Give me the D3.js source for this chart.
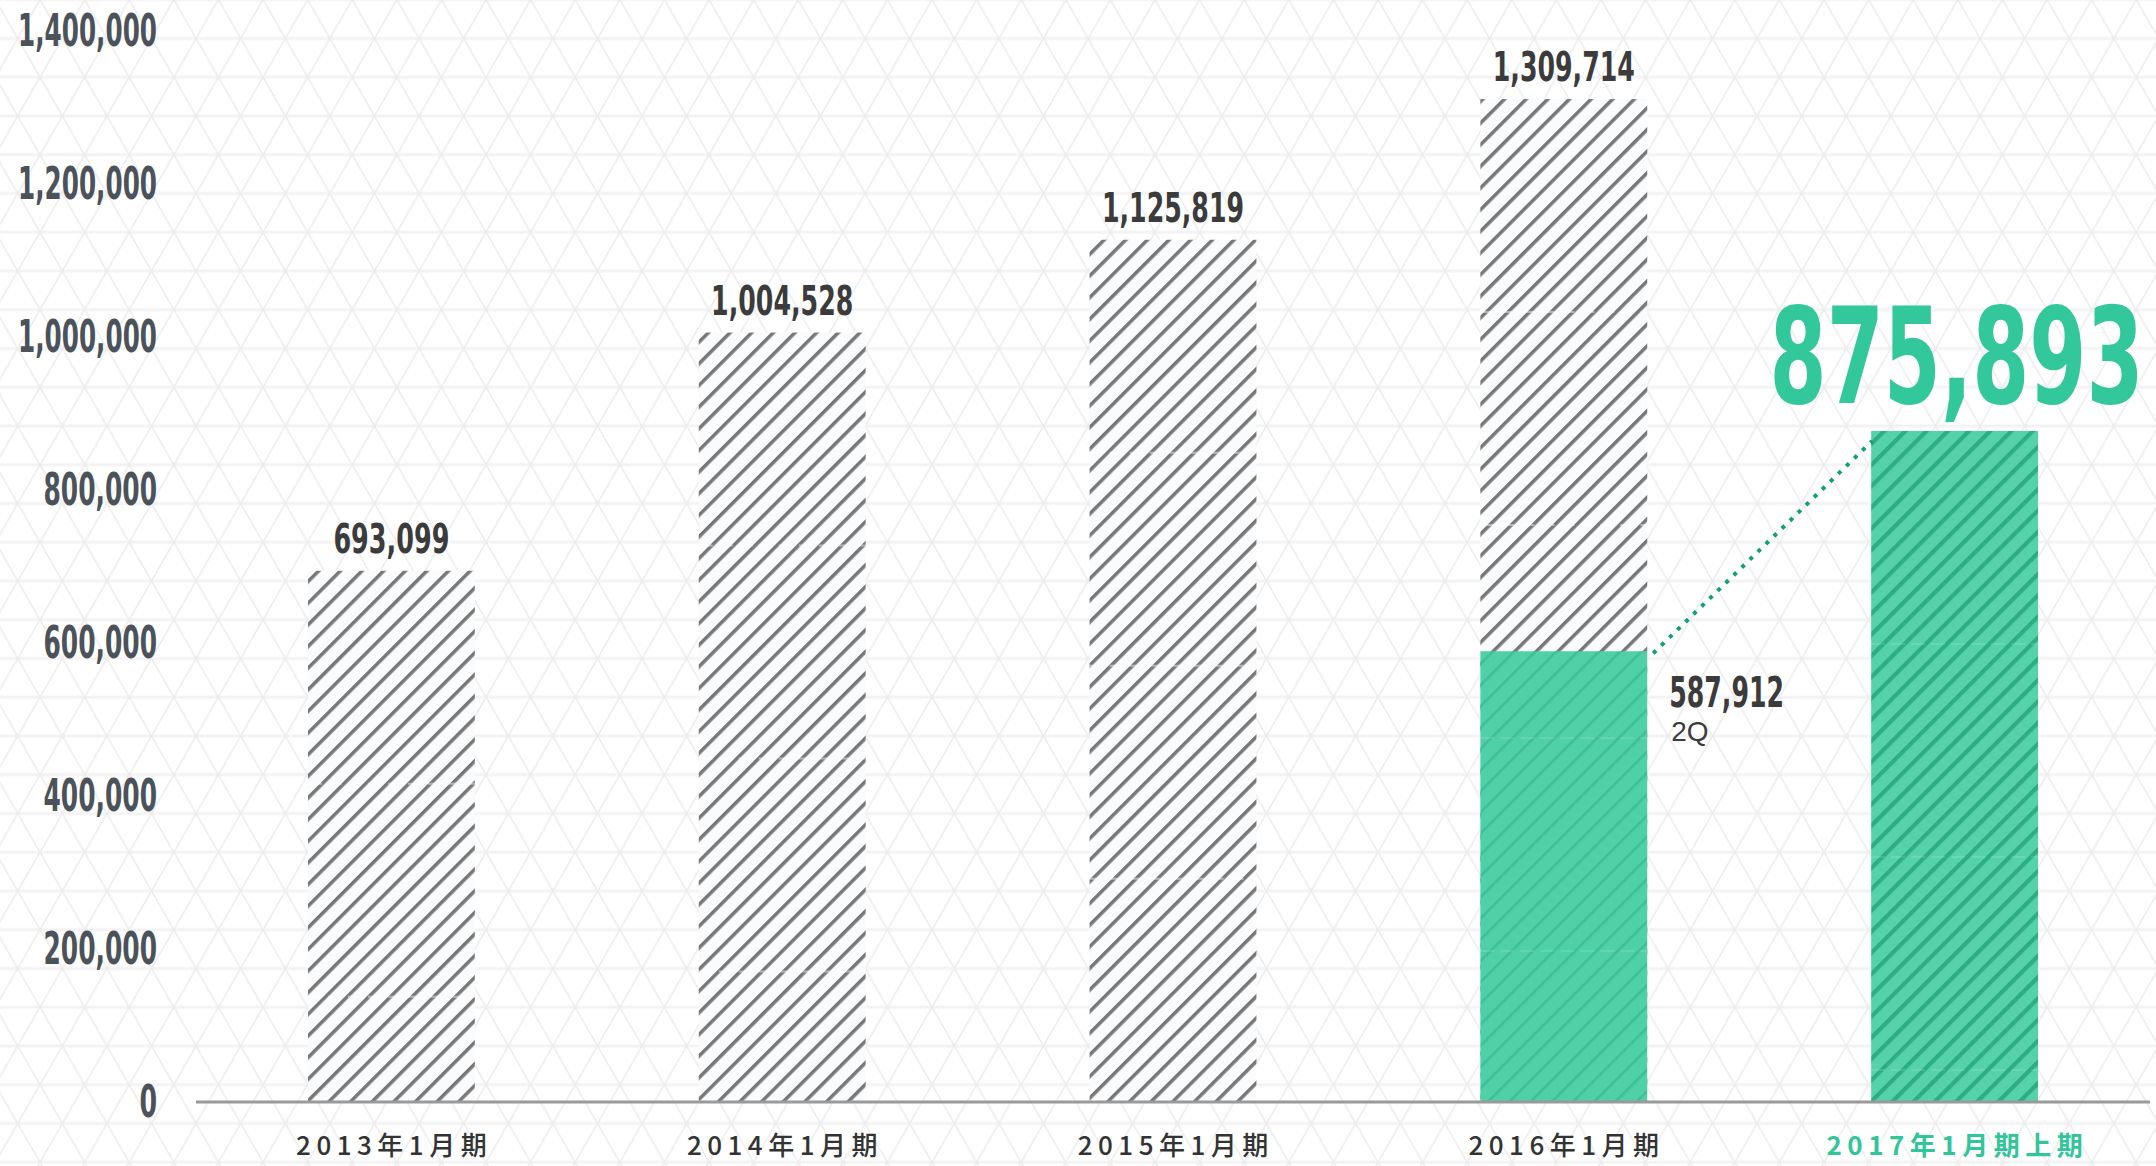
<!DOCTYPE html>
<html>
<head>
<meta charset="utf-8">
<script src="https://cdn.jsdelivr.net/npm/d3@7"></script>
<style>
  html, body { margin: 0; padding: 0; background: #fff; }
  svg { display: block; }
</style>
</head>
<body>
<svg id="chart" width="2156" height="1166"></svg>
<script>
// Fiscal periods (fiscal year ending January)
const categories = ["2013年1月期", "2014年1月期", "2015年1月期", "2016年1月期", "2017年1月期上期"];
// Full-year totals
const annualSales = [693099, 1004528, 1125819, 1309714, null];
// First-half (through 2Q) totals
const firstHalfSales = [null, null, null, 587912, 875893];
// Y axis tick values
const yTicks = [0, 200000, 400000, 600000, 800000, 1000000, 1200000, 1400000];

const W = 2156, H = 1166;
const svg = d3.select("#chart");
const defs = svg.append("defs");

const numFont = "'DejaVu Sans Condensed', 'Liberation Sans Narrow', 'DejaVu Sans', sans-serif";
const jpFont = "'Noto Sans CJK JP', 'Noto Sans', sans-serif";
const fmt = d3.format(",");

// ---- background: triangular lattice ----
const side = 44.6, rowH = 38.75;
const lattice = defs.append("pattern")
  .attr("id", "lattice")
  .attr("patternUnits", "userSpaceOnUse")
  .attr("x", 40).attr("y", 77.2)
  .attr("width", side).attr("height", rowH * 2);
[0, rowH, rowH * 2].forEach(yy => {
  lattice.append("line").attr("x1", 0).attr("x2", side).attr("y1", yy).attr("y2", yy)
    .attr("stroke", "#f3f3f3").attr("stroke-width", 3);
});
lattice.append("line").attr("x1", 0).attr("y1", 0).attr("x2", side).attr("y2", rowH * 2)
  .attr("stroke", "#ececec").attr("stroke-width", 1.6);
lattice.append("line").attr("x1", side).attr("y1", 0).attr("x2", 0).attr("y2", rowH * 2)
  .attr("stroke", "#ececec").attr("stroke-width", 1.6);

svg.append("rect").attr("width", W).attr("height", H).attr("fill", "#fff");
svg.append("rect").attr("width", W).attr("height", H).attr("fill", "url(#lattice)");

// ---- hatch patterns ----
function hatch(id, bg, stripe, sw, period) {
  const p = defs.append("pattern")
    .attr("id", id)
    .attr("patternUnits", "userSpaceOnUse")
    .attr("width", period).attr("height", period)
    .attr("patternTransform", "rotate(45)");
  p.append("rect").attr("width", period).attr("height", period).attr("fill", bg);
  p.append("rect").attr("x", 0).attr("y", 0).attr("width", sw).attr("height", period).attr("fill", stripe);
}
hatch("hatchGray", "#fafbfc", "#777777", 3.5, 15.3);
hatch("hatchGreenLight", "#50d0a7", "#41be95", 2.6, 15.0);
hatch("hatchGreen", "#55d2aa", "#2cad84", 4.2, 15.0);

// ---- scales ----
const x = d3.scaleBand()
  .domain(categories)
  .range([196, 2150])
  .paddingInner(0.573)
  .paddingOuter(0.2865);

const y = d3.scaleLinear()
  .domain([0, 1400000])
  .range([1101, 30]);

// condensed numeric text: horizontally fitted so each digit advances `digitW` px
function condText(parent, tx, ty, txt, size, digitW, color, anchor) {
  const g = parent.append("g");
  const t = g.append("text")
    .attr("text-anchor", anchor || "middle")
    .attr("font-family", numFont)
    .attr("font-weight", "bold")
    .attr("font-size", size)
    .attr("fill", color)
    .text(txt);
  const natural = t.node().getComputedTextLength();
  const units = [...txt].reduce((a, ch) => a + (ch === "," ? 0.45 : 1), 0);
  const sx = natural > 0 ? (digitW * units) / natural : 1;
  g.attr("transform", `translate(${tx},${ty}) scale(${sx},1)`);
  return g;
}

// ---- y axis labels ----
const yAxisG = svg.append("g");
yTicks.forEach(t => {
  condText(yAxisG, 157, y(t) + 16, fmt(t), 44, 17.6, "#4b525a", "end");
});

// ---- bars ----
const barsG = svg.append("g");
const seamStep = 213;

categories.forEach((c, i) => {
  const bx = x(c), bw = x.bandwidth();
  const total = annualSales[i];
  const half = firstHalfSales[i];
  const topVal = total != null ? total : half;
  const topY = y(topVal);

  if (total != null) {
    barsG.append("rect")
      .attr("x", bx).attr("y", y(total))
      .attr("width", bw).attr("height", y(0) - y(total))
      .attr("fill", "url(#hatchGray)");
  }
  if (half != null) {
    barsG.append("rect")
      .attr("x", bx).attr("y", y(half))
      .attr("width", bw).attr("height", y(0) - y(half))
      .attr("fill", total != null ? "url(#hatchGreenLight)" : "url(#hatchGreen)");
  }
  // faint tile seams down the bar
  for (let sy = topY + seamStep; sy < y(0) - 20; sy += seamStep) {
    const onGreen = half != null && sy > y(half);
    barsG.append("line")
      .attr("x1", bx).attr("x2", bx + bw)
      .attr("y1", sy).attr("y2", sy)
      .attr("stroke", onGreen ? "rgba(255,255,255,0.12)" : "rgba(255,255,255,0.45)")
      .attr("stroke-width", 2)
      .attr("stroke-dasharray", "14 6");
  }

  // value labels
  if (total != null) {
    condText(barsG, bx + bw / 2, y(total) - 18, fmt(total), 41, 18, "#3b3b3b");
  }
});

// ---- baseline ----
svg.append("line")
  .attr("x1", 196).attr("x2", 2150)
  .attr("y1", y(0) + 1).attr("y2", y(0) + 1)
  .attr("stroke", "#9a9a9a").attr("stroke-width", 3);

// ---- first-half annotations ----
const c4 = categories[3], c5 = categories[4];
const h4 = firstHalfSales[3], h5 = firstHalfSales[4];

// dotted connector between the two first-half tops
svg.append("line")
  .attr("x1", x(c4) + x.bandwidth() + 6).attr("y1", y(h4) + 2)
  .attr("x2", x(c5) + 1).attr("y2", y(h5) + 10)
  .attr("stroke", "#11a07c")
  .attr("stroke-width", 4)
  .attr("stroke-dasharray", "4 7.2");

// 2Q label beside the 2016 first-half bar
condText(svg, x(c4) + x.bandwidth() + 22, y(h4) + 56, fmt(h4), 42, 17.8, "#3b3b3b", "start");
svg.append("text")
  .attr("x", x(c4) + x.bandwidth() + 24)
  .attr("y", y(h4) + 90)
  .attr("font-family", "'Liberation Sans', Arial, sans-serif")
  .attr("font-size", 28)
  .attr("fill", "#3b3b3b")
  .text("2Q");

// headline number for the current first half
condText(svg, x(c5) + x.bandwidth() / 2 + 2, y(h5) - 28, fmt(h5), 134, 58, "#33c89b");

// ---- x axis labels ----
const ls = 5.5;
categories.forEach((c, i) => {
  const last = i === categories.length - 1;
  svg.append("text")
    .attr("x", x(c) + x.bandwidth() / 2 + ls / 2)
    .attr("y", 1155)
    .attr("text-anchor", "middle")
    .attr("font-family", jpFont)
    .attr("font-weight", last ? 700 : 500)
    .attr("font-size", 26)
    .attr("letter-spacing", ls)
    .attr("fill", last ? "#33c59a" : "#333333")
    .text(c);
});
</script>
</body>
</html>
